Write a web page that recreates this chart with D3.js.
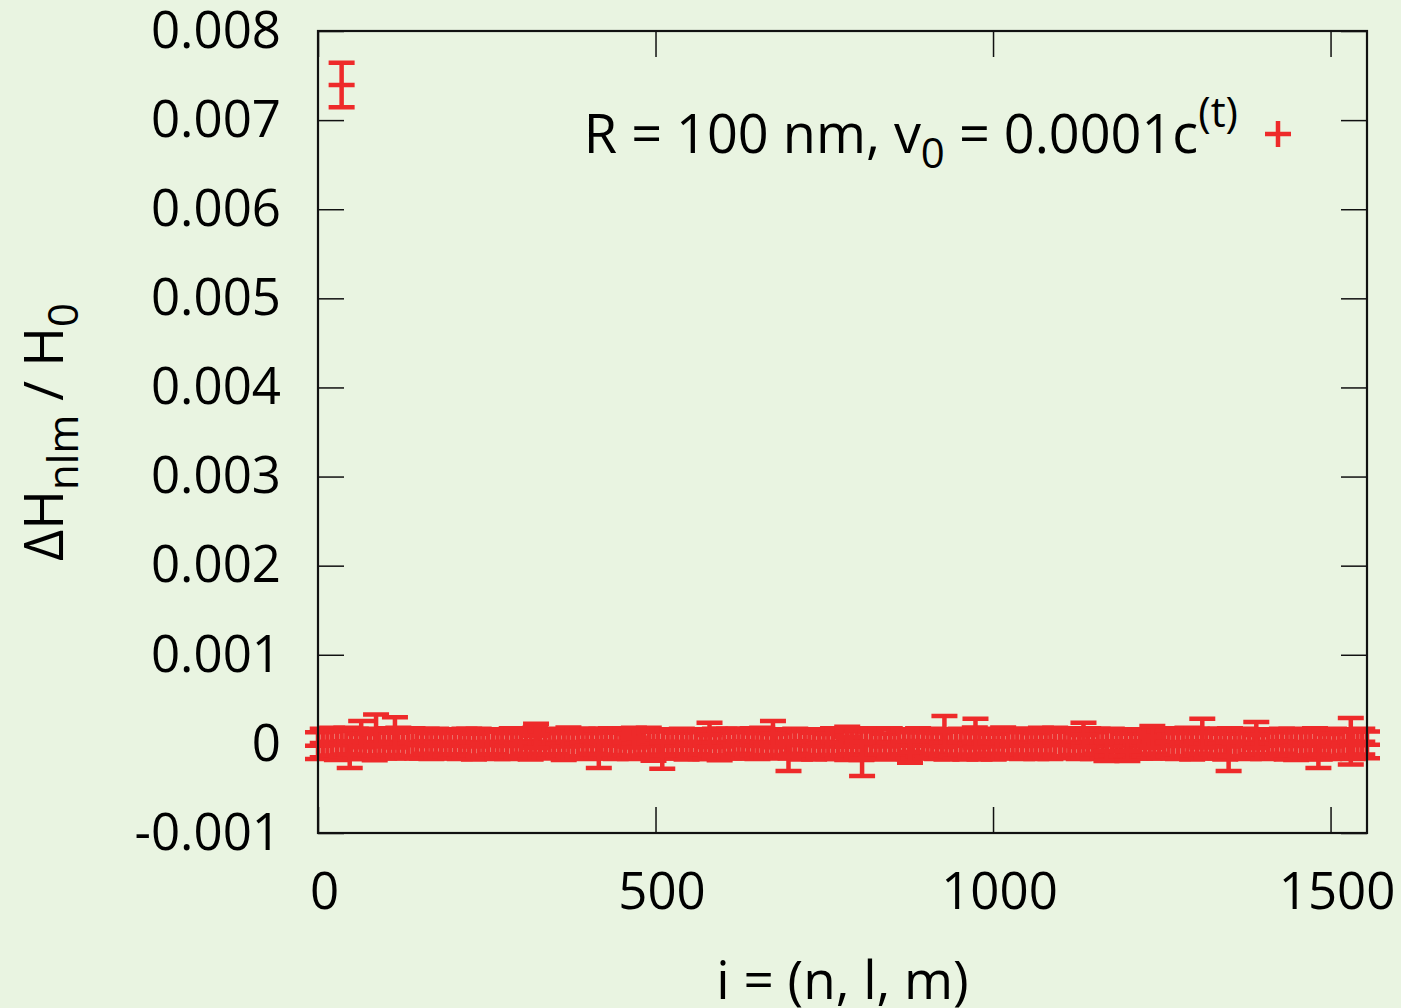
<!DOCTYPE html>
<html><head><meta charset="utf-8">
<script src="https://cdn.jsdelivr.net/npm/d3@7"></script>
<style>html,body{margin:0;padding:0;background:#e9f4e1;}</style>
</head><body>
<svg id="chart" width="1401" height="1008"></svg>
<script>
// ---- data (values in units of 1e-6) ----
const xTicks = [0, 500, 1000, 1500];
const xTickLabels = ["0", "500", "1000", "1500"];
const yTicks = [-0.001, 0, 0.001, 0.002, 0.003, 0.004, 0.005, 0.006, 0.007, 0.008];
const yTickLabels = ["-0.001", "0", "0.001", "0.002", "0.003", "0.004", "0.005", "0.006", "0.007", "0.008"];

// dense band of states
const bandIdx = [0,7,14,21,28,35,42,49,56,63,70,77,84,91,98,105,112,119,126,133,140,147,154,161,168,175,182,189,196,203,210,217,224,231,238,245,252,259,266,273,280,287,294,301,308,315,322,329,336,343,350,357,364,371,378,385,392,399,406,413,420,427,434,441,448,455,462,469,476,483,490,497,504,511,518,525,532,539,546,553,560,567,574,581,588,595,602,609,616,623,630,637,644,651,658,665,672,679,686,693,700,707,714,721,728,735,742,749,756,763,770,777,784,791,798,805,812,819,826,833,840,847,854,861,868,875,882,889,896,903,910,917,924,931,938,945,952,959,966,973,980,987,994,1001,1008,1015,1022,1029,1036,1043,1050,1057,1064,1071,1078,1085,1092,1099,1106,1113,1120,1127,1134,1141,1148,1155,1162,1169,1176,1183,1190,1197,1204,1211,1218,1225,1232,1239,1246,1253,1260,1267,1274,1281,1288,1295,1302,1309,1316,1323,1330,1337,1344,1351,1358,1365,1372,1379,1386,1393,1400,1407,1414,1421,1428,1435,1442,1449,1456,1463,1470,1477,1484,1491,1498,1505,1512,1519,1526,1533,1540,1547,1554];
const bandVal = [-20,10,-5,25,-15,5,30,-10,15,-25,0,20,-30,10,-5,25,-20,15,5,-10,
20,-15,0,30,-25,10,-5,15,-20,25,-10,5,20,-30,15,0,-15,25,-5,10,
-25,20,5,-10,30,-20,15,-5,10,-15,25,0,-30,20,-10,5,15,-25,30,-5,
10,-20,25,-15,5,20,-30,0,15,-10,30,-25,5,10,-5,25,-20,15,-10,0,
25,-5,-20,15,10,-30,20,5,-15,30,-10,0,25,-25,15,-5,10,-20,20,5,
-10,30,-15,0,20,-25,5,15,-30,25,-5,10,-20,30,0,-15,20,-10,5,25,
-30,15,10,-5,25,-20,0,20,-15,5,30,-25,10,-10,15,-5,25,-20,0,20,
-15,5,30,-30,10,20,-10,-5,25,-20,15,0,-25,30,5,-15,20,-10,10,-5,
25,-25,0,15,-20,30,-10,5,20,-15,10,-30,25,0,-5,15,-20,30,-10,5,
20,-5,-25,10,15,-20,30,-15,0,25,-10,5,-30,20,10,-5,15,-25,25,0,
-20,10,5,-15,30,-10,20,-25,15,0,-5,25,-20,10,-30,15,5,-10,20,-15,
0,25,-10];
const bandErr = [150,160,145,155,165,140,150,160,155,145,165,150,155,140,160,150,145,165,155,150,
155,150,165,140,145,160,155,150,145,140,160,165,150,145,155,160,150,140,165,155,
145,155,160,150,140,155,165,145,160,150,140,155,150,165,145,160,155,145,140,160,
160,145,150,155,165,150,140,160,155,145,150,165,155,150,160,140,145,155,165,150,
140,165,150,145,160,155,150,165,145,140,155,160,150,145,165,155,150,140,145,160,
155,140,160,165,145,150,155,145,140,150,165,155,160,145,150,165,155,150,160,145,
145,160,155,150,140,150,165,155,145,160,140,145,155,165,150,160,145,155,150,165,
160,150,140,145,155,165,150,160,145,150,155,140,145,150,165,155,160,145,150,155,
150,145,165,160,150,140,155,145,150,160,155,145,140,165,160,150,145,140,155,150,
155,160,145,150,165,155,140,150,160,145,150,165,145,155,150,160,155,145,140,165,
150,155,160,145,140,165,150,155,145,160,165,150,155,145,140,155,160,150,145,155,
155,145,150];

// states that stand out from the band
const spikeIdx = [35,47,64,86,114,323,416,468,510,580,674,697,784,806,877,928,974,1134,1168,1199,1236,1310,1349,1390,1482,1530];
const spikeVal = [7393,-120,110,160,130,90,-120,70,-130,100,110,-140,80,-170,-90,140,120,100,-80,-80,80,120,-140,100,-120,30];
const spikeErr = [250,150,148,170,170,135,150,110,150,136,148,163,111,189,123,174,161,136,111,111,122,161,163,147,150,260];

const UNIT = 1e-6;
const RED = "#ee2a2a";
const FONT = "'Open Sans', sans-serif";

const svg = d3.select("#chart");
const L = 318, R = 1367, T = 31, B = 833;
const x = d3.scaleLinear().domain([0, 1554]).range([L, R]);
const y = d3.scaleLinear().domain([-0.001, 0.008]).range([B, T]);

svg.append("rect").attr("width", 1401).attr("height", 1008).attr("fill", "#e9f4e1");

function styleAxis(g) {
  g.select(".domain").remove();
  g.selectAll(".tick line").attr("stroke", "#111").attr("stroke-width", 1.5);
  g.selectAll(".tick text").attr("font-family", FONT).attr("font-size", 51).attr("fill", "#000");
}
svg.append("g").attr("transform", `translate(${L},0)`)
  .call(d3.axisLeft(y).tickValues(yTicks).tickSize(-26).tickPadding(37).tickFormat((d, i) => yTickLabels[i]))
  .call(styleAxis);
svg.append("g").attr("transform", `translate(${R},0)`)
  .call(d3.axisRight(y).tickValues(yTicks).tickSize(-26).tickFormat(""))
  .call(styleAxis);
svg.append("g").attr("transform", `translate(0,${B})`)
  .call(d3.axisBottom(x).tickValues(xTicks).tickSize(-26).tickPadding(40).tickFormat((d, i) => xTickLabels[i]))
  .call(styleAxis)
  .selectAll(".tick text").attr("dx", 6);
svg.append("g").attr("transform", `translate(0,${T})`)
  .call(d3.axisTop(x).tickValues(xTicks).tickSize(-26).tickFormat(""))
  .call(styleAxis);

const HW = 13;
function drawSeries(idx, val, err) {
  const data = idx.map((d, k) => ({ i: d, v: val[k] * UNIT, e: err[k] * UNIT }));
  const g = svg.append("g").attr("stroke", RED).attr("stroke-width", 4.5).attr("fill", "none");
  g.selectAll("path").data(data).join("path")
    .attr("d", d => {
      const cx = x(d.i), y0 = y(d.v - d.e), y1 = y(d.v + d.e), yc = y(d.v);
      return `M${cx},${y0}V${y1}M${cx - HW},${y0}H${cx + HW}M${cx - HW},${y1}H${cx + HW}M${cx - HW},${yc}H${cx + HW}`;
    });
}
drawSeries(bandIdx, bandVal, bandErr);
drawSeries(spikeIdx, spikeVal, spikeErr);

svg.append("rect").attr("x", L).attr("y", T).attr("width", R - L).attr("height", B - T)
  .attr("fill", "none").attr("stroke", "#111").attr("stroke-width", 2.2);

svg.append("text").attr("x", (L + R) / 2).attr("y", 999).attr("text-anchor", "middle")
  .attr("font-family", FONT).attr("font-size", 53).text("i = (n, l, m)");

const yl = svg.append("text").attr("transform", `translate(63,${(T + B) / 2}) rotate(-90)`)
  .attr("text-anchor", "middle").attr("font-family", FONT).attr("font-size", 54);
yl.append("tspan").text("ΔH");
yl.append("tspan").attr("dy", 15).attr("font-size", 42).text("nlm");
yl.append("tspan").attr("dy", -15).text(" / H");
yl.append("tspan").attr("dy", 15).attr("font-size", 42).text("0");

const lt = svg.append("text").attr("x", 1238).attr("y", 153).attr("text-anchor", "end")
  .attr("font-family", FONT).attr("font-size", 54);
lt.append("tspan").text("R = 100 nm, v");
lt.append("tspan").attr("dy", 15).attr("font-size", 42).text("0");
lt.append("tspan").attr("dy", -15).text(" = 0.0001c");
lt.append("tspan").attr("dy", -26).attr("font-size", 42).text("(t)");
svg.append("path").attr("d", `M${1278 - HW},134H${1278 + HW}M1278,${134 - HW}V${134 + HW}`)
  .attr("stroke", RED).attr("stroke-width", 4.5);
</script>
</body></html>
